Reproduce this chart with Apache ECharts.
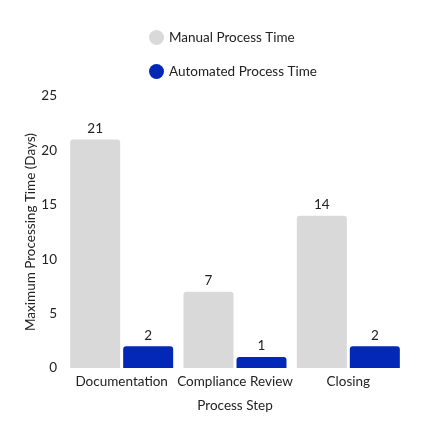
<!DOCTYPE html>
<html><head><meta charset="utf-8">
<script src="https://cdn.jsdelivr.net/npm/echarts@6/dist/echarts.min.js"></script>
<style>html,body{margin:0;padding:0;background:#fff}#c{width:424px;height:437px}</style>
</head><body><div id="c"></div>
<script>
const categories = ['Documentation', 'Compliance Review', 'Closing'];
const manualTimes = [21, 7, 14];
const automatedTimes = [2, 1, 2];
const yTicks = [0, 5, 10, 15, 20, 25];

const font = 'Lato';
const fs = 13.5;
const chart = echarts.init(document.getElementById('c'));
chart.setOption({
  textStyle: { fontFamily: font },
  legend: {
    orient: 'vertical',
    left: 144, top: 25,
    itemGap: 19,
    itemWidth: 15, itemHeight: 15,
    icon: 'circle',
    textStyle: { fontFamily: font, fontSize: fs, color: '#222' },
    data: ['Manual Process Time', 'Automated Process Time']
  },
  grid: { left: 65, right: 19, top: 96, bottom: 69 },
  xAxis: {
    type: 'category', data: categories,
    name: 'Process Step', nameLocation: 'middle', nameGap: 31,
    nameTextStyle: { fontFamily: font, fontSize: fs, color: '#222' },
    axisLine: { show: false }, axisTick: { show: false },
    axisLabel: { interval: 0, fontFamily: font, fontSize: fs, color: '#222', margin: 7 }
  },
  yAxis: {
    type: 'value', min: 0, max: 25, interval: 5,
    name: 'Maximum Processing Time (Days)', nameLocation: 'middle', nameGap: 27,
    nameMoveOverlap: false,
    nameTextStyle: { fontFamily: font, fontSize: fs, color: '#222' },
    splitLine: { show: false }, axisLine: { show: false }, axisTick: { show: false },
    axisLabel: { fontFamily: font, fontSize: fs, color: '#222', margin: 8,
      formatter: v => yTicks.includes(v) ? String(v) : '' }
  },
  series: [
    { name: 'Manual Process Time', type: 'bar', data: manualTimes,
      barWidth: 50, barGap: '6%',
      itemStyle: { color: '#d9d9d9', borderRadius: [3, 3, 0, 0] },
      label: { show: true, position: 'top', distance: 4, fontFamily: font, fontSize: fs, color: '#222' } },
    { name: 'Automated Process Time', type: 'bar', data: automatedTimes,
      barWidth: 50,
      itemStyle: { color: '#0328b8', borderRadius: [3, 3, 0, 0] },
      label: { show: true, position: 'top', distance: 4, fontFamily: font, fontSize: fs, color: '#222' } }
  ]
});
</script></body></html>
